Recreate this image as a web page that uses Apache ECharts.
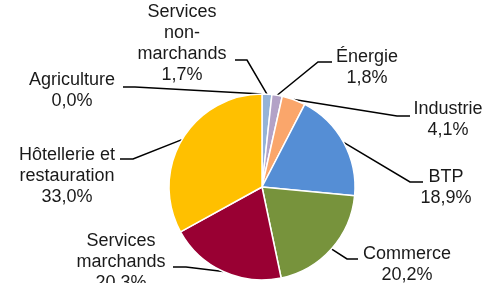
<!DOCTYPE html>
<html>
<head>
<meta charset="utf-8">
<script src="https://cdn.jsdelivr.net/npm/echarts@6/dist/echarts.min.js"></script>
<style>
  html, body { margin: 0; padding: 0; background: #fff; }
  #pieChart { width: 500px; height: 283px; }
</style>
</head>
<body>
<div id="pieChart"></div>
<script>
// slices, clockwise from 12 o'clock
const sectors = ['Agriculture', 'Services\nnon-\nmarchands', 'Énergie', 'Industrie', 'BTP', 'Commerce', 'Services\nmarchands', 'Hôtellerie et\nrestauration'];
const shares = [0.0, 1.7, 1.8, 4.1, 18.9, 20.2, 20.3, 33.0];
const colors = ['#4F81BD', '#95B3D7', '#B3A2C7', '#FAA66B', '#558ED5', '#77933C', '#990033', '#FFC000'];

// where each label sits (text centre) and where its leader line bends / ends
const labelSpots = [
  { x: 72, y: 91, bend: [135, 87], end: [123, 87] },
  { x: 182, y: 44, bend: [247, 60], end: [235, 60] },
  { x: 367, y: 68, bend: [318, 62], end: [332, 62] },
  { x: 448, y: 120, bend: [397, 116], end: [410, 116] },
  { x: 446, y: 188, bend: [410, 182], end: [423, 182] },
  { x: 407, y: 265, bend: [347, 259], end: [358, 259] },
  { x: 121, y: 262, bend: [186, 267], end: [173, 267] },
  { x: 67, y: 176, bend: [133, 159], end: [120, 159] }
];

const pie_chart = echarts.init(document.getElementById('pieChart'), null, { renderer: 'canvas' });

const options = {
  animation: false,
  series: [
    {
      type: 'pie',
      center: [262, 187],
      radius: 93,
      startAngle: 90,
      clockwise: true,
      avoidLabelOverlap: false,
      data: sectors.map((name, i) => ({
        name: name,
        value: shares[i],
        itemStyle: { color: colors[i] }
      })),
      itemStyle: { borderColor: '#fff', borderWidth: 1.5 },
      label: {
        show: true,
        position: 'outside',
        fontFamily: 'Liberation Sans, Arial, sans-serif',
        fontSize: 18,
        lineHeight: 21,
        color: '#1a1a1a',
        align: 'center',
        formatter: p => p.name + '\n' + p.value.toFixed(1).replace('.', ',') + '%'
      },
      labelLine: {
        show: true,
        length: 10,
        length2: 10,
        lineStyle: { color: '#000', width: 1.5 }
      },
      labelLayout: function (params) {
        const s = labelSpots[params.dataIndex];
        const anchor = params.labelLinePoints ? params.labelLinePoints[0] : s.bend;
        return {
          x: s.x,
          y: s.y,
          align: 'center',
          verticalAlign: 'middle',
          hideOverlap: false,
          labelLinePoints: [anchor, s.bend, s.end]
        };
      },
      emphasis: { disabled: true }
    }
  ]
};

pie_chart.setOption(options);
</script>
</body>
</html>
